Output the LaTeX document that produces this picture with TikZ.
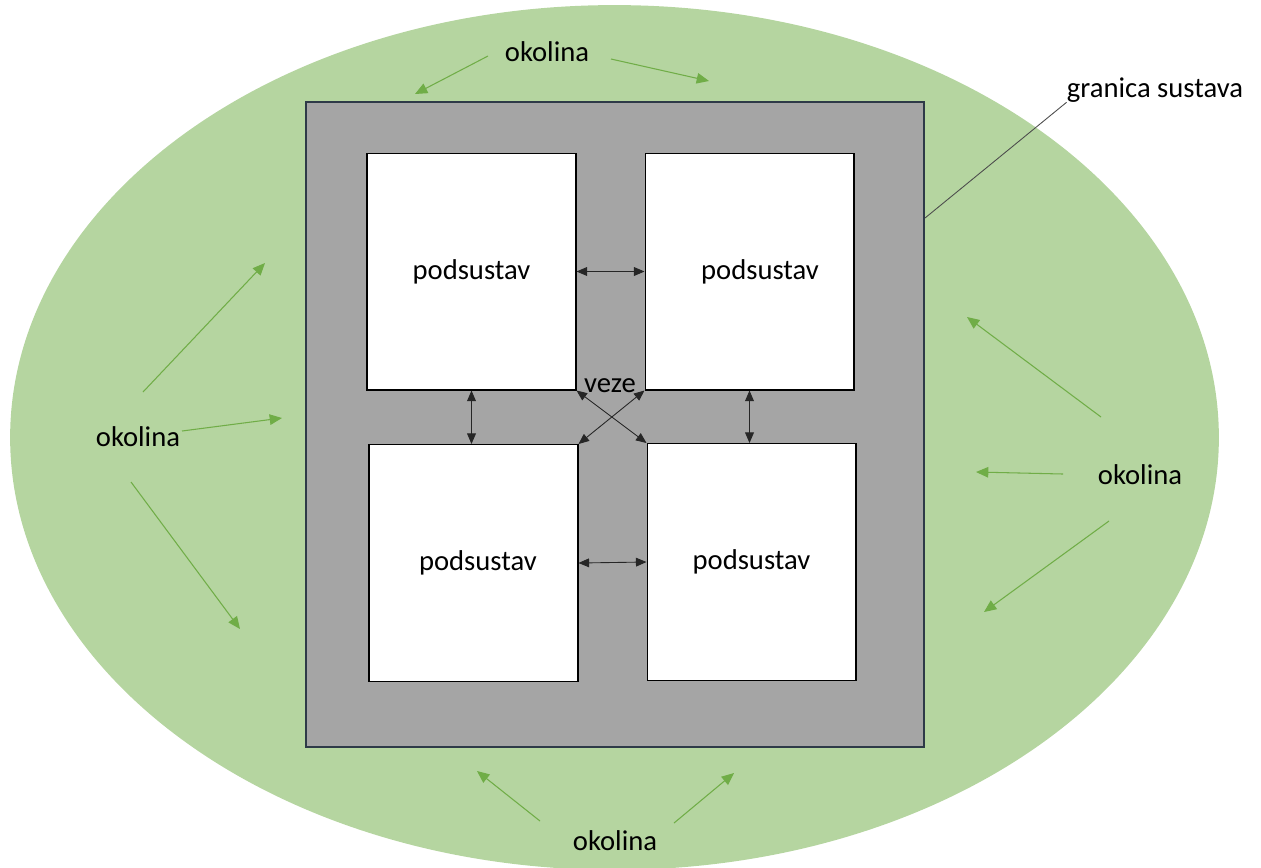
\documentclass[tikz,border=0pt]{standalone}
\usepackage{fontspec}
\setmainfont{Carlito}
\usetikzlibrary{arrows.meta}

\definecolor{envgreen}{HTML}{B5D5A0}
\definecolor{arrowgreen}{HTML}{70AD47}
\definecolor{sysgray}{HTML}{A5A5A5}
\definecolor{sysline}{HTML}{2E3A48}

\tikzstyle{subsys} = [rectangle, draw=black, fill=white, line width=0.6pt, minimum width=4.18cm, minimum height=4.74cm, inner sep=0pt]
\tikzstyle{link} = [draw=black!85, line width=0.5pt, arrows={Triangle[length=6pt,width=5pt]-Triangle[length=6pt,width=5pt]}]
\tikzstyle{envarrow} = [draw=arrowgreen, line width=0.6pt, arrows={-Triangle[length=7pt,width=6pt]}]
\tikzstyle{lbl} = [anchor=base, inner sep=0pt]

\begin{document}
\begin{tikzpicture}[x=0.02cm, y=-0.02cm, every node/.style={font=\fontsize{16.3}{19}\selectfont}]
       \useasboundingbox (0,0) rectangle (1261,867);

       % okolina i granica sustava
       \fill[envgreen] (614.5,437.5) ellipse [x radius=12.09cm, y radius=8.65cm];
       \draw[sysline, fill=sysgray, line width=1.2pt] (306,102) rectangle (924,747);

       % podsustavi
       \node[subsys] (tl) at (471.5,271.5) {podsustav};
       \node[subsys] (tr) at (749.5,271.5) {\hspace*{12pt}\raisebox{-2pt}{podsustav}};
       \node[subsys] (bl) at (473.5,563) {\hspace*{5pt}podsustav};
       \node[subsys] (br) at (751.5,562) {\raisebox{2pt}{podsustav}};

       % veze
       \draw[link] (tl.east) -- (tr.west);
       \draw[link] (bl.east) -- (br.west);
       \draw[link] (tl.south) -- (tl.south |- bl.north);
       \draw[link] (tr.south) -- (tr.south |- br.north);
       \draw[link] (tl.south east) -- (br.north west);
       \draw[link] (tr.south west) -- (bl.north east);
       \node[lbl] (veze) at (610,392) {veze};

       \node[lbl] (granica) at (1155,97) {granica sustava};
       \coordinate (edge) at (925,218);
       \draw[black!70, line width=0.5pt] (edge) -- (granica.south west);

       % okolina
       \node[lbl] (envtop) at (547,61) {okolina};
       \node[lbl] (envleft) at (138,446) {okolina};
       \node[lbl] (envright) at (1140,484) {okolina};
       \node[lbl] (envbottom) at (615,850) {okolina};

       \coordinate (t1s) at (488,56);   \coordinate (t1e) at (415,94);
       \coordinate (t2s) at (611,59);   \coordinate (t2e) at (709,81);
       \coordinate (l1s) at (143,392);  \coordinate (l1e) at (265,263);
       \coordinate (l2s) at (182,431);  \coordinate (l2e) at (282,418);
       \coordinate (l3s) at (131,482);  \coordinate (l3e) at (240,629);
       \coordinate (r1s) at (1101,417); \coordinate (r1e) at (967,317);
       \coordinate (r2s) at (1063,474); \coordinate (r2e) at (976,472);
       \coordinate (r3s) at (1109,521); \coordinate (r3e) at (984,612);
       \coordinate (b1s) at (540,821);  \coordinate (b1e) at (477,771);
       \coordinate (b2s) at (674,823);  \coordinate (b2e) at (734,773);

       \draw[envarrow] (t1s) -- (t1e);
       \draw[envarrow] (t2s) -- (t2e);
       \draw[envarrow] (l1s) -- (l1e);
       \draw[envarrow] (l2s) -- (l2e);
       \draw[envarrow] (l3s) -- (l3e);
       \draw[envarrow] (r1s) -- (r1e);
       \draw[envarrow] (r2s) -- (r2e);
       \draw[envarrow] (r3s) -- (r3e);
       \draw[envarrow] (b1s) -- (b1e);
       \draw[envarrow] (b2s) -- (b2e);
\end{tikzpicture}
\end{document}
